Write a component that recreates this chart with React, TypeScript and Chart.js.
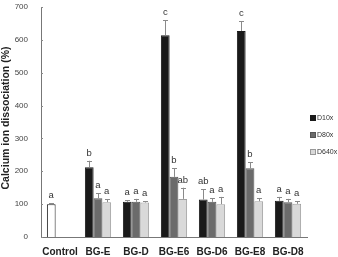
import React, { useEffect, useRef } from "react";
import { Chart, registerables } from "chart.js";

Chart.register(...registerables);

const categories = ["Control", "BG-E", "BG-D", "BG-E6", "BG-D6", "BG-E8", "BG-D8"];
const seriesNames = ["D10x", "D80x", "D640x"];
const d10 = [100, 212, 107, 614, 114, 627, 110];
const d10Err = [2, 20, 5, 46, 32, 30, 12];
const d10Sig = ["a", "b", "a", "c", "ab", "c", "a"];
const d80 = [null, 118, 107, 183, 107, 209, 106];
const d80Err = [null, 15, 9, 27, 11, 18, 10];
const d80Sig = ["", "a", "a", "b", "a", "b", "a"];
const d640 = [null, 106, 105, 116, 100, 109, 101];
const d640Err = [null, 9, 4, 34, 22, 9, 8];
const d640Sig = ["", "a", "a", "ab", "a", "a", "a"];
const yMin = 0;
const yMax = 700;
const yStep = 100;
const yTitle = "Calcium ion dissociation (%)";

const FONT = "'Liberation Sans', Arial, Helvetica, sans-serif";
const errs = [d10Err, d80Err, d640Err];
const sigs = [d10Sig, d80Sig, d640Sig];
const legendFill = ["#1a1a1a", "#6b6b6b", "#d9d9d9"];
const legendBorder = ["#1a1a1a", "#555555", "#999999"];

const extrasPlugin = {
  id: "extras",
  afterDatasetsDraw(chart: any) {
    const ctx = chart.ctx;
    const y = chart.scales.y;
    const area = chart.chartArea;
    ctx.save();
    ctx.strokeStyle = "#888";
    ctx.lineWidth = 1;
    y.ticks.forEach((t: any) => {
      const py = Math.round(y.getPixelForValue(t.value)) + 0.5;
      ctx.beginPath();
      ctx.moveTo(area.left, py);
      ctx.lineTo(area.left + 2, py);
      ctx.stroke();
    });
    chart.data.datasets.forEach((ds: any, di: number) => {
      const meta = chart.getDatasetMeta(di);
      meta.data.forEach((el: any, i: number) => {
        const v = ds.data[i];
        if (v === null || v === undefined) return;
        const e = errs[di][i] || 0;
        const x = Math.round(el.x) + 0.5;
        const top = y.getPixelForValue(v + e);
        ctx.strokeStyle = "#8a8a8a";
        ctx.lineWidth = 1;
        ctx.beginPath();
        ctx.moveTo(x, el.y);
        ctx.lineTo(x, top);
        ctx.moveTo(x - 2.5, Math.round(top) + 0.5);
        ctx.lineTo(x + 2.5, Math.round(top) + 0.5);
        ctx.stroke();
        const s = sigs[di][i];
        if (s) {
          ctx.fillStyle = "#333";
          ctx.font = "9.5px " + FONT;
          ctx.textAlign = "center";
          ctx.textBaseline = "bottom";
          ctx.fillText(s, el.x, top - 3);
        }
      });
    });
    // y-axis title
    ctx.save();
    ctx.translate(6, 118);
    ctx.rotate(-Math.PI / 2);
    ctx.font = "bold 10.5px " + FONT;
    ctx.fillStyle = "#222";
    ctx.textAlign = "center";
    ctx.textBaseline = "middle";
    ctx.fillText(yTitle, 0, 0);
    ctx.restore();
    // legend
    ctx.font = "7px " + FONT;
    ctx.textAlign = "left";
    ctx.textBaseline = "middle";
    seriesNames.forEach((n, i) => {
      const cy = 118 + i * 17;
      ctx.fillStyle = legendFill[i];
      ctx.fillRect(311, cy - 2, 4, 4);
      ctx.strokeStyle = legendBorder[i];
      ctx.strokeRect(310.5, cy - 2.5, 5, 5);
      ctx.fillStyle = "#333";
      ctx.fillText(n, 317, cy);
    });
    ctx.restore();
  },
};

export default function App() {
  const ref = useRef<HTMLCanvasElement | null>(null);
  useEffect(() => {
    if (!ref.current) return;
    const chart = new Chart(ref.current, {
      type: "bar",
      data: {
        labels: categories,
        datasets: [
          {
            label: seriesNames[0],
            data: d10,
            backgroundColor: d10.map((_, i) => (i === 0 ? "#ffffff" : "#1a1a1a")),
            borderColor: "#1a1a1a",
            borderWidth: 1,
          },
          {
            label: seriesNames[1],
            data: d80,
            backgroundColor: "#6b6b6b",
            borderColor: "#555555",
            borderWidth: 1,
          },
          {
            label: seriesNames[2],
            data: d640,
            backgroundColor: "#d9d9d9",
            borderColor: "#a0a0a0",
            borderWidth: 1,
          },
        ],
      },
      options: {
        animation: false,
        responsive: false,
        maintainAspectRatio: false,
        layout: { padding: { left: 0, right: 31, top: 7, bottom: 0 } },
        datasets: { bar: { categoryPercentage: 0.69, barPercentage: 1 } },
        plugins: { legend: { display: false }, tooltip: { enabled: false } },
        scales: {
          x: {
            grid: { display: false, drawTicks: false },
            border: { display: true, color: "#777", width: 1 },
            ticks: {
              padding: 9,
              color: "#222",
              maxRotation: 0,
              minRotation: 0,
              autoSkip: false,
              font: { family: FONT, size: 10, weight: "bold" },
            },
            afterFit: (s: any) => {
              s.height = 20;
              s.paddingLeft = 0;
              s.paddingRight = 0;
            },
          },
          y: {
            min: yMin,
            max: yMax,
            grid: { display: false, drawTicks: false },
            border: { display: true, color: "#777", width: 1 },
            ticks: {
              stepSize: yStep,
              padding: 13,
              color: "#444",
              font: { family: FONT, size: 8 },
            },
            afterFit: (s: any) => {
              s.width = 41;
              s.paddingTop = 0;
              s.paddingBottom = 0;
            },
          },
        },
      },
      plugins: [extrasPlugin],
    } as any);
    return () => chart.destroy();
  }, []);
  return (
    <div style={{ position: "fixed", left: 0, top: 0, width: 338, height: 257, background: "#fff" }}>
      <canvas ref={ref} width={338} height={257} style={{ display: "block", width: 338, height: 257 }} />
    </div>
  );
}
